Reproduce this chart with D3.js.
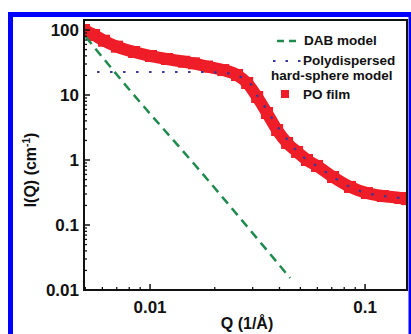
<!DOCTYPE html>
<html>
<head>
<meta charset="utf-8">
<script src="https://cdn.jsdelivr.net/npm/d3@7"></script>
<style>
  body { margin: 0; background: #fff; }
  .chart text { font-family: 'Liberation Sans', Arial, sans-serif; font-weight: bold; fill: #111; }
</style>
</head>
<body>
<div class="chart"></div>
<script>
// PO film scattering curve
const filmQ = [0.00493, 0.00549, 0.00611, 0.00702, 0.00843, 0.0101, 0.0120, 0.0144, 0.0160, 0.0184,
    0.0219, 0.0254, 0.0283, 0.0315, 0.0350, 0.0390, 0.0434, 0.0483, 0.0537, 0.0598,
    0.0710, 0.0851, 0.102, 0.121, 0.146, 0.157];
const filmI = [100, 83.8, 68.4, 55.4, 45.9, 39.8, 35.8, 32.5, 30.7, 27.4,
    24.2, 20.3, 15.3, 9.31, 5.28, 2.89, 1.83, 1.33, 1.0, 0.81,
    0.547, 0.385, 0.31, 0.279, 0.26, 0.25];

// DAB model (dashed green)
const dabQ = [0.00503, 0.00782, 0.0171, 0.0448];
const dabI = [78, 13.3, 0.678, 0.0153];

// polydispersed hard-sphere model (dotted blue)
const hsQ = [0.00567, 0.01, 0.0171, 0.0223, 0.0257, 0.0292, 0.0318, 0.035, 0.0381, 0.0425,
    0.0483, 0.0537, 0.0598, 0.071, 0.0851, 0.102, 0.121, 0.146, 0.157];
const hsI = [22.6, 22.6, 22.6, 21.8, 19.6, 15.3, 9.31, 5.88, 3.71, 2.26,
    1.37, 1.0, 0.81, 0.547, 0.385, 0.31, 0.279, 0.26, 0.25];

const xTicks = [0.01, 0.1];
const yTicks = [0.01, 0.1, 1, 10, 100];
const legendLabels = ['DAB model', 'Polydispersed', 'hard-sphere model', 'PO film'];

const red = '#ee1d27';
const green = '#1e8a4e';
const navy = '#38389a';

const width = 411;
const height = 334;
const margin = { top: 20, right: 4, bottom: 44, left: 84 };
const innerW = width - margin.left - margin.right;
const innerH = height - margin.top - margin.bottom;

// scales
const scaleX = d3.scaleLog().domain([0.00493, 0.1567]).range([0, innerW]);
const scaleY = d3.scaleLog().domain([0.01, 100]).range([innerH, 10]);

const $svg = d3.select('.chart').append('svg')
    .attr('width', width)
    .attr('height', height);

// blue frame round the figure
$svg.append('rect')
    .attr('x', 10.5).attr('y', 14.5)
    .attr('width', 400.5).attr('height', 340)
    .attr('fill', '#fff')
    .attr('stroke', '#0000ff')
    .attr('stroke-width', 5);

const $g = $svg.append('g').attr('transform', `translate(${margin.left}, ${margin.top})`);

$g.append('clipPath').attr('id', 'plot-clip')
    .append('rect').attr('width', innerW).attr('height', innerH);

const $vis = $g.append('g').attr('clip-path', 'url(#plot-clip)');

const pts = (qs, is) => qs.map((q, i) => [q, is[i]]);
const line = d3.line()
    .x(d => scaleX(d[0]))
    .y(d => scaleY(d[1]))
    .curve(d3.curveMonotoneX);

// data band: thick line under square markers
const film = pts(filmQ, filmI);
$vis.append('path')
    .attr('d', line(film))
    .attr('fill', 'none')
    .attr('stroke', red)
    .attr('stroke-width', 12);

$vis.selectAll('rect.pt').data(film).join('rect')
    .attr('class', 'pt')
    .attr('x', d => scaleX(d[0]) - 6)
    .attr('y', d => scaleY(d[1]) - 6)
    .attr('width', 12).attr('height', 12)
    .attr('fill', red);

$vis.append('path')
    .attr('d', line(pts(dabQ, dabI)))
    .attr('fill', 'none')
    .attr('stroke', green)
    .attr('stroke-width', 2.5)
    .attr('stroke-dasharray', '9 6');

$vis.append('path')
    .attr('d', line(pts(hsQ, hsI)))
    .attr('fill', 'none')
    .attr('stroke', navy)
    .attr('stroke-width', 2.2)
    .attr('stroke-dasharray', '2.5 10.5');

// axes, ticks pointing inwards
const xMinor = [];
[0.001, 0.01, 0.1].forEach(b => d3.range(2, 10).forEach(k => {
    const v = b * k;
    if (v > 0.00495 && v < 0.156) xMinor.push(v);
}));
const yMinor = [];
[0.01, 0.1, 1, 10].forEach(b => d3.range(2, 10).forEach(k => yMinor.push(b * k)));

const $axes = $g.append('g').attr('class', 'g-axis');

$axes.selectAll('line.xminor').data(xMinor).join('line')
    .attr('x1', d => scaleX(d)).attr('x2', d => scaleX(d))
    .attr('y1', innerH).attr('y2', innerH - 3)
    .attr('stroke', '#111').attr('stroke-width', 1.3);
$axes.selectAll('line.xmajor').data(xTicks).join('line')
    .attr('x1', d => scaleX(d)).attr('x2', d => scaleX(d))
    .attr('y1', innerH).attr('y2', innerH - 6)
    .attr('stroke', '#111').attr('stroke-width', 1.5);
$axes.selectAll('line.yminor').data(yMinor).join('line')
    .attr('y1', d => scaleY(d)).attr('y2', d => scaleY(d))
    .attr('x1', 0).attr('x2', 3)
    .attr('stroke', '#111').attr('stroke-width', 1.3);
$axes.selectAll('line.ymajor').data(yTicks).join('line')
    .attr('y1', d => scaleY(d)).attr('y2', d => scaleY(d))
    .attr('x1', 0).attr('x2', 6)
    .attr('stroke', '#111').attr('stroke-width', 1.5);

$g.append('rect')
    .attr('width', innerW).attr('height', innerH)
    .attr('fill', 'none')
    .attr('stroke', '#111')
    .attr('stroke-width', 2);

$axes.selectAll('text.xl').data(xTicks).join('text')
    .attr('x', d => scaleX(d))
    .attr('y', innerH + 23)
    .attr('text-anchor', 'middle')
    .style('font-size', '17px')
    .text(d => d);
$axes.selectAll('text.yl').data(yTicks).join('text')
    .attr('x', -5)
    .attr('y', d => scaleY(d) + 6)
    .attr('text-anchor', 'end')
    .style('font-size', '17px')
    .text(d => d);

// axis titles
$g.append('text')
    .attr('x', 163).attr('y', innerH + 39)
    .attr('text-anchor', 'middle')
    .style('font-size', '16px')
    .text('Q (1/Å)');

const $yt = $g.append('text')
    .attr('transform', `translate(-48, 150) rotate(-90)`)
    .attr('text-anchor', 'middle')
    .style('font-size', '16px');
$yt.append('tspan').text('I(Q) (cm');
$yt.append('tspan').attr('dy', -6).style('font-size', '10px').text('-1');
$yt.append('tspan').attr('dy', 6).text(')');

// legend
const $leg = $svg.append('g').style('font-size', '13.5px');
$leg.append('line')
    .attr('x1', 277).attr('x2', 299).attr('y1', 41).attr('y2', 41)
    .attr('stroke', green).attr('stroke-width', 2.5).attr('stroke-dasharray', '7 5');
$leg.append('text').attr('x', 304).attr('y', 45).text(legendLabels[0]);
$leg.append('line')
    .attr('x1', 273).attr('x2', 302).attr('y1', 61).attr('y2', 61)
    .attr('stroke', navy).attr('stroke-width', 2.2).attr('stroke-dasharray', '2.5 10');
$leg.append('text').attr('x', 303).attr('y', 65).text(legendLabels[1]);
$leg.append('text').attr('x', 271).attr('y', 80).text(legendLabels[2]);
$leg.append('rect')
    .attr('x', 281).attr('y', 90).attr('width', 8).attr('height', 8)
    .attr('fill', red);
$leg.append('text').attr('x', 303).attr('y', 99).text(legendLabels[3]);
</script>
</body>
</html>
